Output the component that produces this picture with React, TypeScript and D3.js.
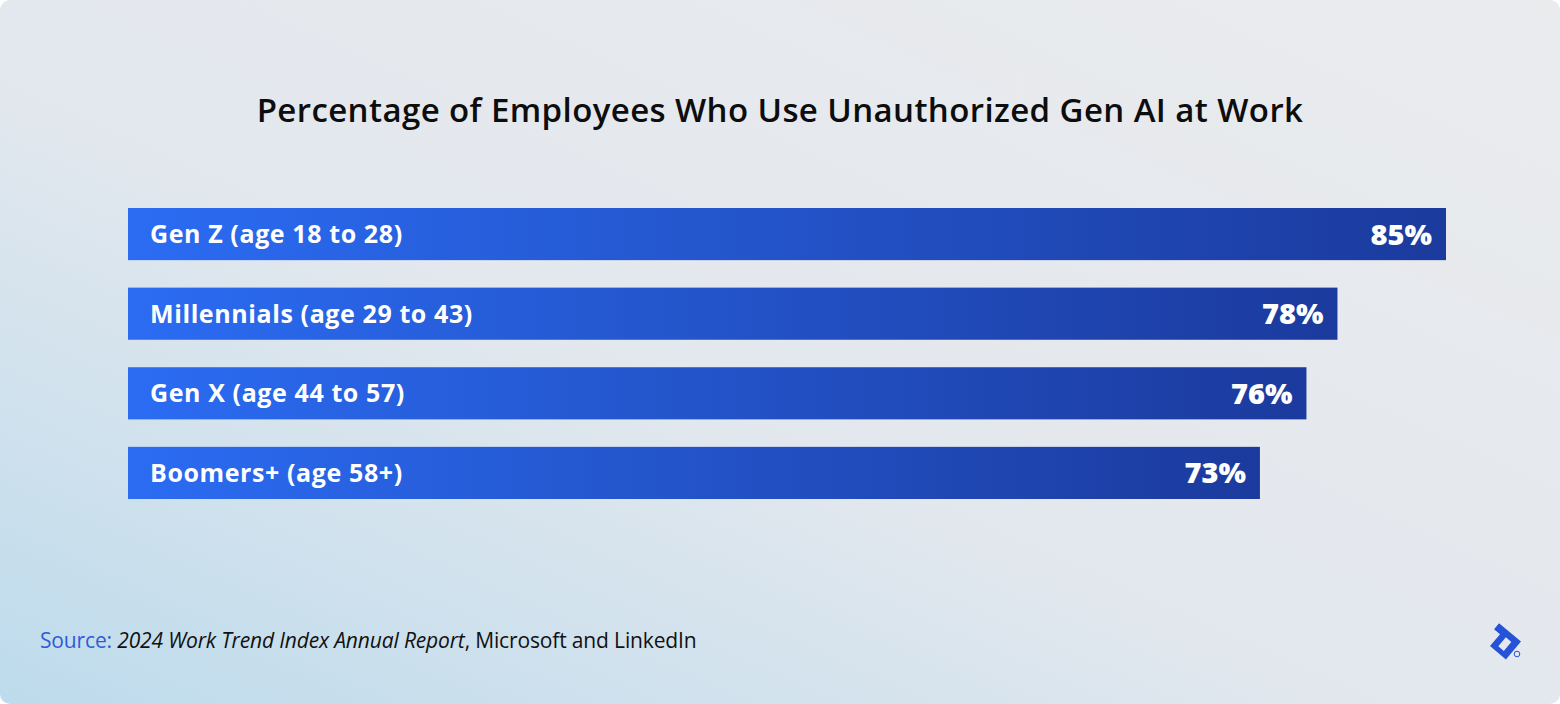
import React from 'react';
import * as d3 from 'd3';

const categories = [
  'Gen Z (age 18 to 28)',
  'Millennials (age 29 to 43)',
  'Gen X (age 44 to 57)',
  'Boomers+ (age 58+)',
];
const values = [85, 78, 76, 73];

const W = 1560;
const H = 704;

const App: React.FC = () => {
  // bar geometry
  const x = d3.scaleLinear().domain([0, 85]).range([128, 1446]);
  const y = d3.scaleBand<string>().domain(categories).range([208, 499]).paddingInner(0.345).paddingOuter(0);

  return (
    <svg
      width={W}
      height={H}
      style={{ position: 'absolute', left: 0, top: 0, display: 'block' }}
      fontFamily="'Open Sans', sans-serif"
    >
      <defs>
        <linearGradient id="bg" x1="0" y1="1" x2="1" y2="0">
          <stop offset="0" stopColor="#bddbec" />
          <stop offset="0.45" stopColor="#e3e8ee" />
          <stop offset="1" stopColor="#eaebed" />
        </linearGradient>
        <linearGradient id="bar" x1="0" y1="0" x2="1" y2="0">
          <stop offset="0" stopColor="#2b6cf3" />
          <stop offset="1" stopColor="#1b3a9d" />
        </linearGradient>
      </defs>

      <rect x={0} y={0} width={W} height={H} rx={10} fill="url(#bg)" />

      <text x={780} y={122} textAnchor="middle" fontSize={33} fontWeight={600} letterSpacing={0.4} fill="#0d0d0d">
        Percentage of Employees Who Use Unauthorized Gen AI at Work
      </text>

      {categories.map((c, i) => {
        const y0 = y(c)!;
        const bh = y.bandwidth();
        return (
          <g key={c}>
            <rect x={x(0)} y={y0} width={x(values[i]) - x(0)} height={bh} fill="url(#bar)" />
            <text x={x(0) + 22} y={y0 + bh / 2 + 9} fontSize={25} fontWeight={700} letterSpacing={0.6} fill="#fff">
              {c}
            </text>
            <text
              x={x(values[i]) - 14}
              y={y0 + bh / 2 + 10.5}
              textAnchor="end"
              fontSize={29}
              fontWeight={800}
              fill="#fff"
            >
              {values[i]}%
            </text>
          </g>
        );
      })}

      <text x={40} y={648} fontSize={21} letterSpacing={-0.15} fill="#111">
        <tspan fill="#2f5bd8">Source: </tspan>
        <tspan fontStyle="italic">2024 Work Trend Index Annual Report</tspan>
        <tspan>, Microsoft and LinkedIn</tspan>
      </text>

      {/* logo */}
      <g transform="translate(1507,640) scale(1.3) rotate(40)" fill="#2552d6">
        <path d="M-13,-6 H9 V12 H-7 V0 H-13 Z M-2,-1 V8 H3.5 V-1 Z" fillRule="evenodd" />
      </g>
      <circle cx={1517} cy={654} r={2.8} fill="none" stroke="#2552d6" strokeWidth={1} />
    </svg>
  );
};

export default App;
